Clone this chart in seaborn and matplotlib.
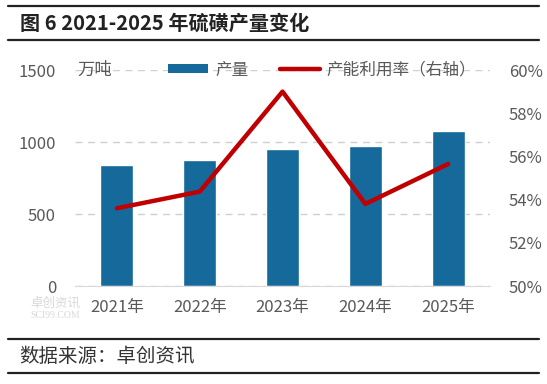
import numpy as np
import pandas as pd
import matplotlib
matplotlib.use("Agg")
import matplotlib.pyplot as plt
from matplotlib.lines import Line2D
from matplotlib.patches import Patch
import seaborn as sns

# data
years = ['2021年', '2022年', '2023年', '2024年', '2025年']
output = [840, 873, 949, 972, 1074]          # 万吨
utilization = [53.6, 54.37, 59.0, 53.8, 55.65]  # %

sns.set_style('white')
plt.rcParams['font.family'] = ['Noto Sans CJK SC', 'DejaVu Sans']
plt.rcParams['axes.unicode_minus'] = False

bar_color = '#15699b'
line_color = '#c00000'
tick_color = '#595959'

df = pd.DataFrame({'year': years, 'output': output, 'rate': utilization})

fig = plt.figure(figsize=(5.47, 3.84), dpi=100)
ax = fig.add_axes([0.138, 0.2552, 0.757, 0.5625])

sns.barplot(data=df, x='year', y='output', color=bar_color, width=0.4,
            saturation=1, ax=ax)
ax.set_ylim(0, 1500)
ax.set_yticks([0, 500, 1000, 1500])
ax.set_xlim(-0.5, len(years) - 0.5)
ax.set_xlabel('')
ax.set_ylabel('')
ax.yaxis.grid(True, color='#d0d0d0', linestyle=(0, (5, 4)), linewidth=1)
ax.set_axisbelow(True)
for s in ['top', 'right', 'left']:
    ax.spines[s].set_visible(False)
ax.spines['bottom'].set_color('#d9d9d9')
ax.tick_params(axis='y', length=0, pad=14, labelsize=12, labelcolor=tick_color)
ax.tick_params(axis='x', length=0, pad=9, labelsize=12, labelcolor=tick_color)

ax2 = ax.twinx()
sns.lineplot(x=np.arange(len(years)), y=df['rate'], color=line_color,
             linewidth=3.2, ax=ax2)
ax2.set_ylim(50, 60)
ax2.set_yticks([50, 52, 54, 56, 58, 60])
ax2.set_yticklabels([f'{v}%' for v in [50, 52, 54, 56, 58, 60]])
ax2.set_ylabel('')
for s in ax2.spines.values():
    s.set_visible(False)
ax2.tick_params(axis='y', length=0, pad=14, labelsize=12, labelcolor=tick_color)

# unit and legend
fig.text(0.142, 0.8177, '万吨', fontsize=12.5, color=tick_color, va='center', ha='left')
handles = [Patch(facecolor=bar_color, edgecolor='none'),
           Line2D([0], [0], color=line_color, linewidth=3.2)]
leg = fig.legend(handles, ['产量', '产能利用率（右轴）'], ncol=2, frameon=False,
                 loc='center left', bbox_to_anchor=(0.2925, 0.8177),
                 fontsize=12, handlelength=2.4, handleheight=0.4,
                 handletextpad=0.4, columnspacing=1.9, borderpad=0)
for t in leg.get_texts():
    t.set_color(tick_color)

# watermark
fig.text(0.055, 1 - 303 / 384, '卓创资讯', fontsize=9, color='#d8d8d8', ha='left', va='center')
fig.text(0.055, 1 - 315 / 384, 'SCI99.COM', fontsize=7, color='#d8d8d8', ha='left', va='center',
         family='Liberation Serif')

# title and source with rules
for y in [1 - 6 / 384, 1 - 40 / 384, 1 - 339 / 384, 1 - 373 / 384]:
    fig.add_artist(Line2D([0.015, 0.985], [y, y], color='#222222', linewidth=1.6,
                          transform=fig.transFigure))
fig.text(0.037, 1 - 23 / 384, '图 6 2021-2025 年硫磺产量变化', fontsize=14.5,
         fontweight='bold', color='#222222', ha='left', va='center')
fig.text(0.035, 1 - 356 / 384, '数据来源：卓创资讯', fontsize=14,
         color='#333333', ha='left', va='center')

fig.savefig('out.png', dpi=100)
